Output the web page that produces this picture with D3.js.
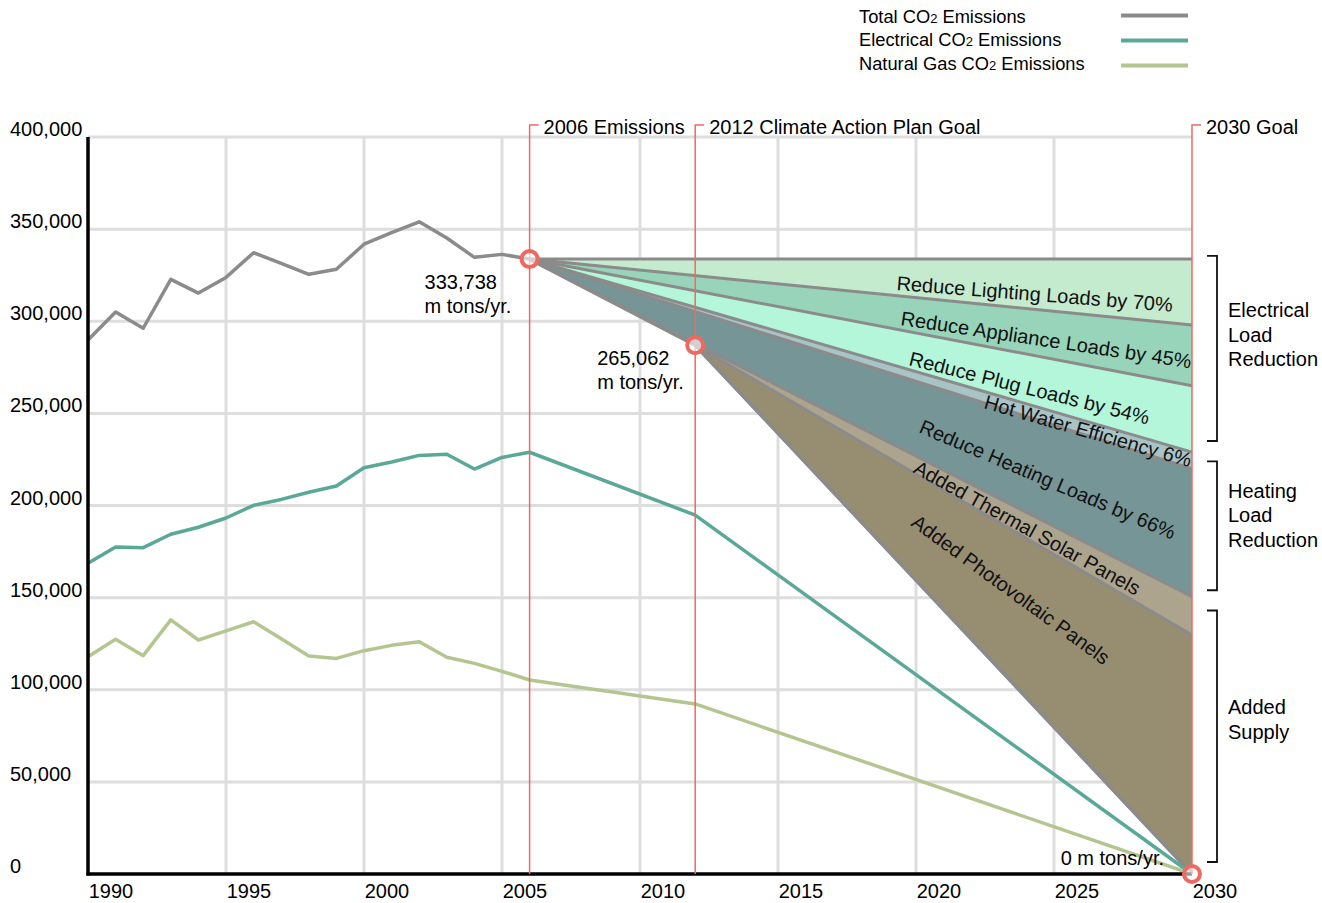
<!DOCTYPE html>
<html>
<head>
<meta charset="utf-8">
<script src="https://cdn.jsdelivr.net/npm/d3@7"></script>
<style>
  body { margin: 0; background: #fff; }
  svg { display: block; font-family: "Liberation Sans", Arial, sans-serif; }
</style>
</head>
<body>
<svg id="chart" width="1322" height="903"></svg>
<script>
// historical emissions (metric tons / yr)
const years = [1990, 1991, 1992, 1993, 1994, 1995, 1996, 1997, 1998, 1999, 2000, 2001, 2002, 2003, 2004, 2005, 2006];
const totalHist = [289800, 305000, 296200, 322700, 315300, 323800, 337200, 331400, 325500, 328200, 341800, 348100, 354000, 345200, 334700, 336300, 333738];
const elecHist = [168600, 177500, 177100, 184400, 188200, 193200, 200100, 203300, 207200, 210600, 220500, 223600, 227200, 227800, 219800, 226100, 228900];
const gasHist = [117900, 127400, 118500, 137900, 127000, 132000, 136900, 127700, 118300, 117000, 121200, 124100, 126100, 117600, 114300, 110000, 105300];

// projection
const projYears = [2006, 2012, 2030];
const totalProj = [333738, 287000, 0];
const elecProj = [228900, 194800, 0];
const gasProj = [105300, 92300, 0];

// reduction wedges (lower edge at 2030, year the wedge starts)
const wedgeNames = [
  "Reduce Lighting Loads by 70%",
  "Reduce Appliance Loads by 45%",
  "Reduce Plug Loads by 54%",
  "Hot Water Efficiency 6%",
  "Reduce Heating Loads by 66%",
  "Added Thermal Solar Panels",
  "Added Photovoltaic Panels"
];
const wedgeFloor2030 = [298000, 265000, 229000, 220000, 150500, 129700, 0];
const wedgeStart = [2006, 2006, 2006, 2006, 2006, 2012, 2012];

const yTicks = [0, 50000, 100000, 150000, 200000, 250000, 300000, 350000, 400000];
const xTicks = [1990, 1995, 2000, 2005, 2010, 2015, 2020, 2025, 2030];

const milestones = [
  { year: 2006, label: "2006 Emissions" },
  { year: 2012, label: "2012 Climate Action Plan Goal" },
  { year: 2030, label: "2030 Goal" }
];

// bracket groups: value range covered and value at first text line
const groups = [
  { top: 335500, bottom: 235000, textAt: 306100, lines: ["Electrical", "Load", "Reduction"] },
  { top: 224000, bottom: 154000, textAt: 207900, lines: ["Heating", "Load", "Reduction"] },
  { top: 143000, bottom: 6500, textAt: 90600, lines: ["Added", "Supply"] }
];

const wedgeColors = ["#c4ebcd", "#97d4b9", "#b3f6d9", "#a9c4c7", "#769596", "#ada48d", "#978e72"];
// label anchors (year, value, angle) for the rotated wedge labels
const wedgeLabelPos = [
  [2019.28, 317000, 4.5],
  [2019.42, 298000, 8.5],
  [2019.71, 276300, 14],
  [2022.43, 252900, 16],
  [2020.07, 239900, 23],
  [2019.86, 218200, 29],
  [2019.78, 189400, 36]
];

const svg = d3.select('#chart');
const x = d3.scaleLinear().domain([1990, 2030]).range([88, 1192]);
const y = d3.scaleLinear().domain([0, 400000]).range([874, 137]);

const grey = "#8b8b8b", teal = "#5aa898", olive = "#b4c690", red = "#ee6a61";

// grid
const grid = svg.append('g');
grid.selectAll('.hg')
  .data(yTicks.filter(d => d > 0))
  .enter().append('line')
  .attr('x1', x(1990)).attr('x2', x(2030))
  .attr('y1', d => y(d)).attr('y2', d => y(d))
  .attr('stroke', '#dedede').attr('stroke-width', 3);
grid.selectAll('.vg')
  .data(xTicks.filter(d => d > 1990 && d < 2030))
  .enter().append('line')
  .attr('x1', d => x(d)).attr('x2', d => x(d))
  .attr('y1', y(400000)).attr('y2', y(0))
  .attr('stroke', '#dedede').attr('stroke-width', 3);

// tick labels
svg.append('g').selectAll('text')
  .data(yTicks)
  .enter().append('text')
  .attr('x', 10)
  .attr('y', d => y(d) - 1)
  .style('font-size', '20px')
  .text(d => d3.format(',')(d));

svg.append('g').selectAll('text')
  .data(xTicks)
  .enter().append('text')
  .attr('x', d => x(d) + 23)
  .attr('y', 898)
  .style('font-size', '20px')
  .style('text-anchor', 'middle')
  .text(d => d);

// wedges
const total2012 = totalProj[projYears.indexOf(2012)];
const startValue = yr => yr === 2006 ? totalProj[0] : total2012;
const bounds = [[[2006, totalProj[0]], [2030, totalProj[0]]]];
wedgeFloor2030.forEach((v, i) => {
  bounds.push([[wedgeStart[i], startValue(wedgeStart[i])], [2030, v]]);
});

const line = d3.line().x(d => x(d[0])).y(d => y(d[1]));
const fan = svg.append('g');
wedgeNames.forEach((name, i) => {
  const pts = bounds[i].concat(bounds[i + 1].slice().reverse());
  fan.append('path')
    .attr('d', line(pts) + 'Z')
    .attr('fill', wedgeColors[i]);
});
bounds.forEach(b => {
  fan.append('path')
    .attr('d', line(b))
    .attr('fill', 'none')
    .attr('stroke', grey)
    .attr('stroke-width', 3);
});
fan.append('path')
  .datum(projYears.map((yr, i) => [yr, totalProj[i]]))
  .attr('d', line)
  .attr('fill', 'none')
  .attr('stroke', grey)
  .attr('stroke-width', 3.5);

wedgeNames.forEach((name, i) => {
  const [yr, v, a] = wedgeLabelPos[i];
  fan.append('text')
    .attr('transform', `translate(${x(yr)},${y(v)}) rotate(${a})`)
    .style('font-size', '20px')
    .attr('fill', '#111')
    .text(name);
});

// series lines
const series = [
  { hist: totalHist, proj: null, color: grey },
  { hist: elecHist, proj: elecProj, color: teal },
  { hist: gasHist, proj: gasProj, color: olive }
];
series.forEach(s => {
  let pts = years.map((yr, i) => [yr, s.hist[i]]);
  if (s.proj) pts = pts.concat(projYears.slice(1).map((yr, i) => [yr, s.proj[i + 1]]));
  svg.append('path')
    .datum(pts)
    .attr('d', line)
    .attr('fill', 'none')
    .attr('stroke', s.color)
    .attr('stroke-width', 3.5)
    .attr('stroke-linejoin', 'round');
});

// axes
svg.append('line')
  .attr('x1', x(1990)).attr('x2', x(1990))
  .attr('y1', y(400000)).attr('y2', y(0) + 1.5)
  .attr('stroke', '#000').attr('stroke-width', 3.5);
svg.append('line')
  .attr('x1', x(1990) - 1.5).attr('x2', x(2030))
  .attr('y1', y(0)).attr('y2', y(0))
  .attr('stroke', '#000').attr('stroke-width', 3.5);

// milestone lines
milestones.forEach(m => {
  const mx = x(m.year);
  svg.append('path')
    .attr('d', `M${mx},${y(0)}V125H${mx + 9}`)
    .attr('fill', 'none')
    .attr('stroke', red)
    .attr('stroke-width', 1.5);
  svg.append('text')
    .attr('x', mx + 14)
    .attr('y', 134)
    .style('font-size', '20px')
    .text(m.label);
});

// milestone markers
[[2006, totalProj[0]], [2012, total2012], [2030, 0]].forEach(p => {
  svg.append('circle')
    .attr('cx', x(p[0])).attr('cy', y(p[1]))
    .attr('r', 8)
    .attr('fill', '#fff').attr('fill-opacity', 0.6)
    .attr('stroke', red).attr('stroke-width', 4);
});

// value notes
const notes = [
  { x: x(2006) - 105, y: y(totalProj[0]) + 30, lines: ["333,738", "m tons/yr."], anchor: 'start' },
  { x: x(2012) - 98, y: y(total2012) + 20, lines: ["265,062", "m tons/yr."], anchor: 'start' },
  { x: x(2030) - 28, y: y(0) - 9, lines: ["0 m tons/yr."], anchor: 'end' }
];
notes.forEach(n => {
  const t = svg.append('text')
    .attr('x', n.x).attr('y', n.y)
    .style('font-size', '20px')
    .style('text-anchor', n.anchor);
  n.lines.forEach((l, i) => {
    t.append('tspan').attr('x', n.x).attr('dy', i ? 24 : 0).text(l);
  });
});

// right brackets
groups.forEach(g => {
  const y0 = y(g.top), y1 = y(g.bottom);
  svg.append('path')
    .attr('d', `M1207,${y0}H1217V${y1}H1207`)
    .attr('fill', 'none')
    .attr('stroke', '#111')
    .attr('stroke-width', 1.8);
  const t = svg.append('text')
    .attr('x', 1228)
    .attr('y', y(g.textAt) + 7)
    .style('font-size', '20px');
  g.lines.forEach((l, i) => {
    t.append('tspan').attr('x', 1228).attr('dy', i ? 24.5 : 0).text(l);
  });
});

// legend
const legend = [
  { label: "Total CO", color: grey },
  { label: "Electrical CO", color: teal },
  { label: "Natural Gas CO", color: olive }
];
legend.forEach((d, i) => {
  const ly = 22.5 + i * 23.5;
  const t = svg.append('text')
    .attr('x', 859).attr('y', ly)
    .style('font-size', '18.3px');
  t.append('tspan').text(d.label);
  t.append('tspan').style('font-size', '13px').text('2');
  t.append('tspan').text(' Emissions');
  svg.append('line')
    .attr('x1', 1121).attr('x2', 1188)
    .attr('y1', ly - 7 + i * 1.5).attr('y2', ly - 7 + i * 1.5)
    .attr('stroke', d.color).attr('stroke-width', 4);
});
</script>
</body>
</html>
